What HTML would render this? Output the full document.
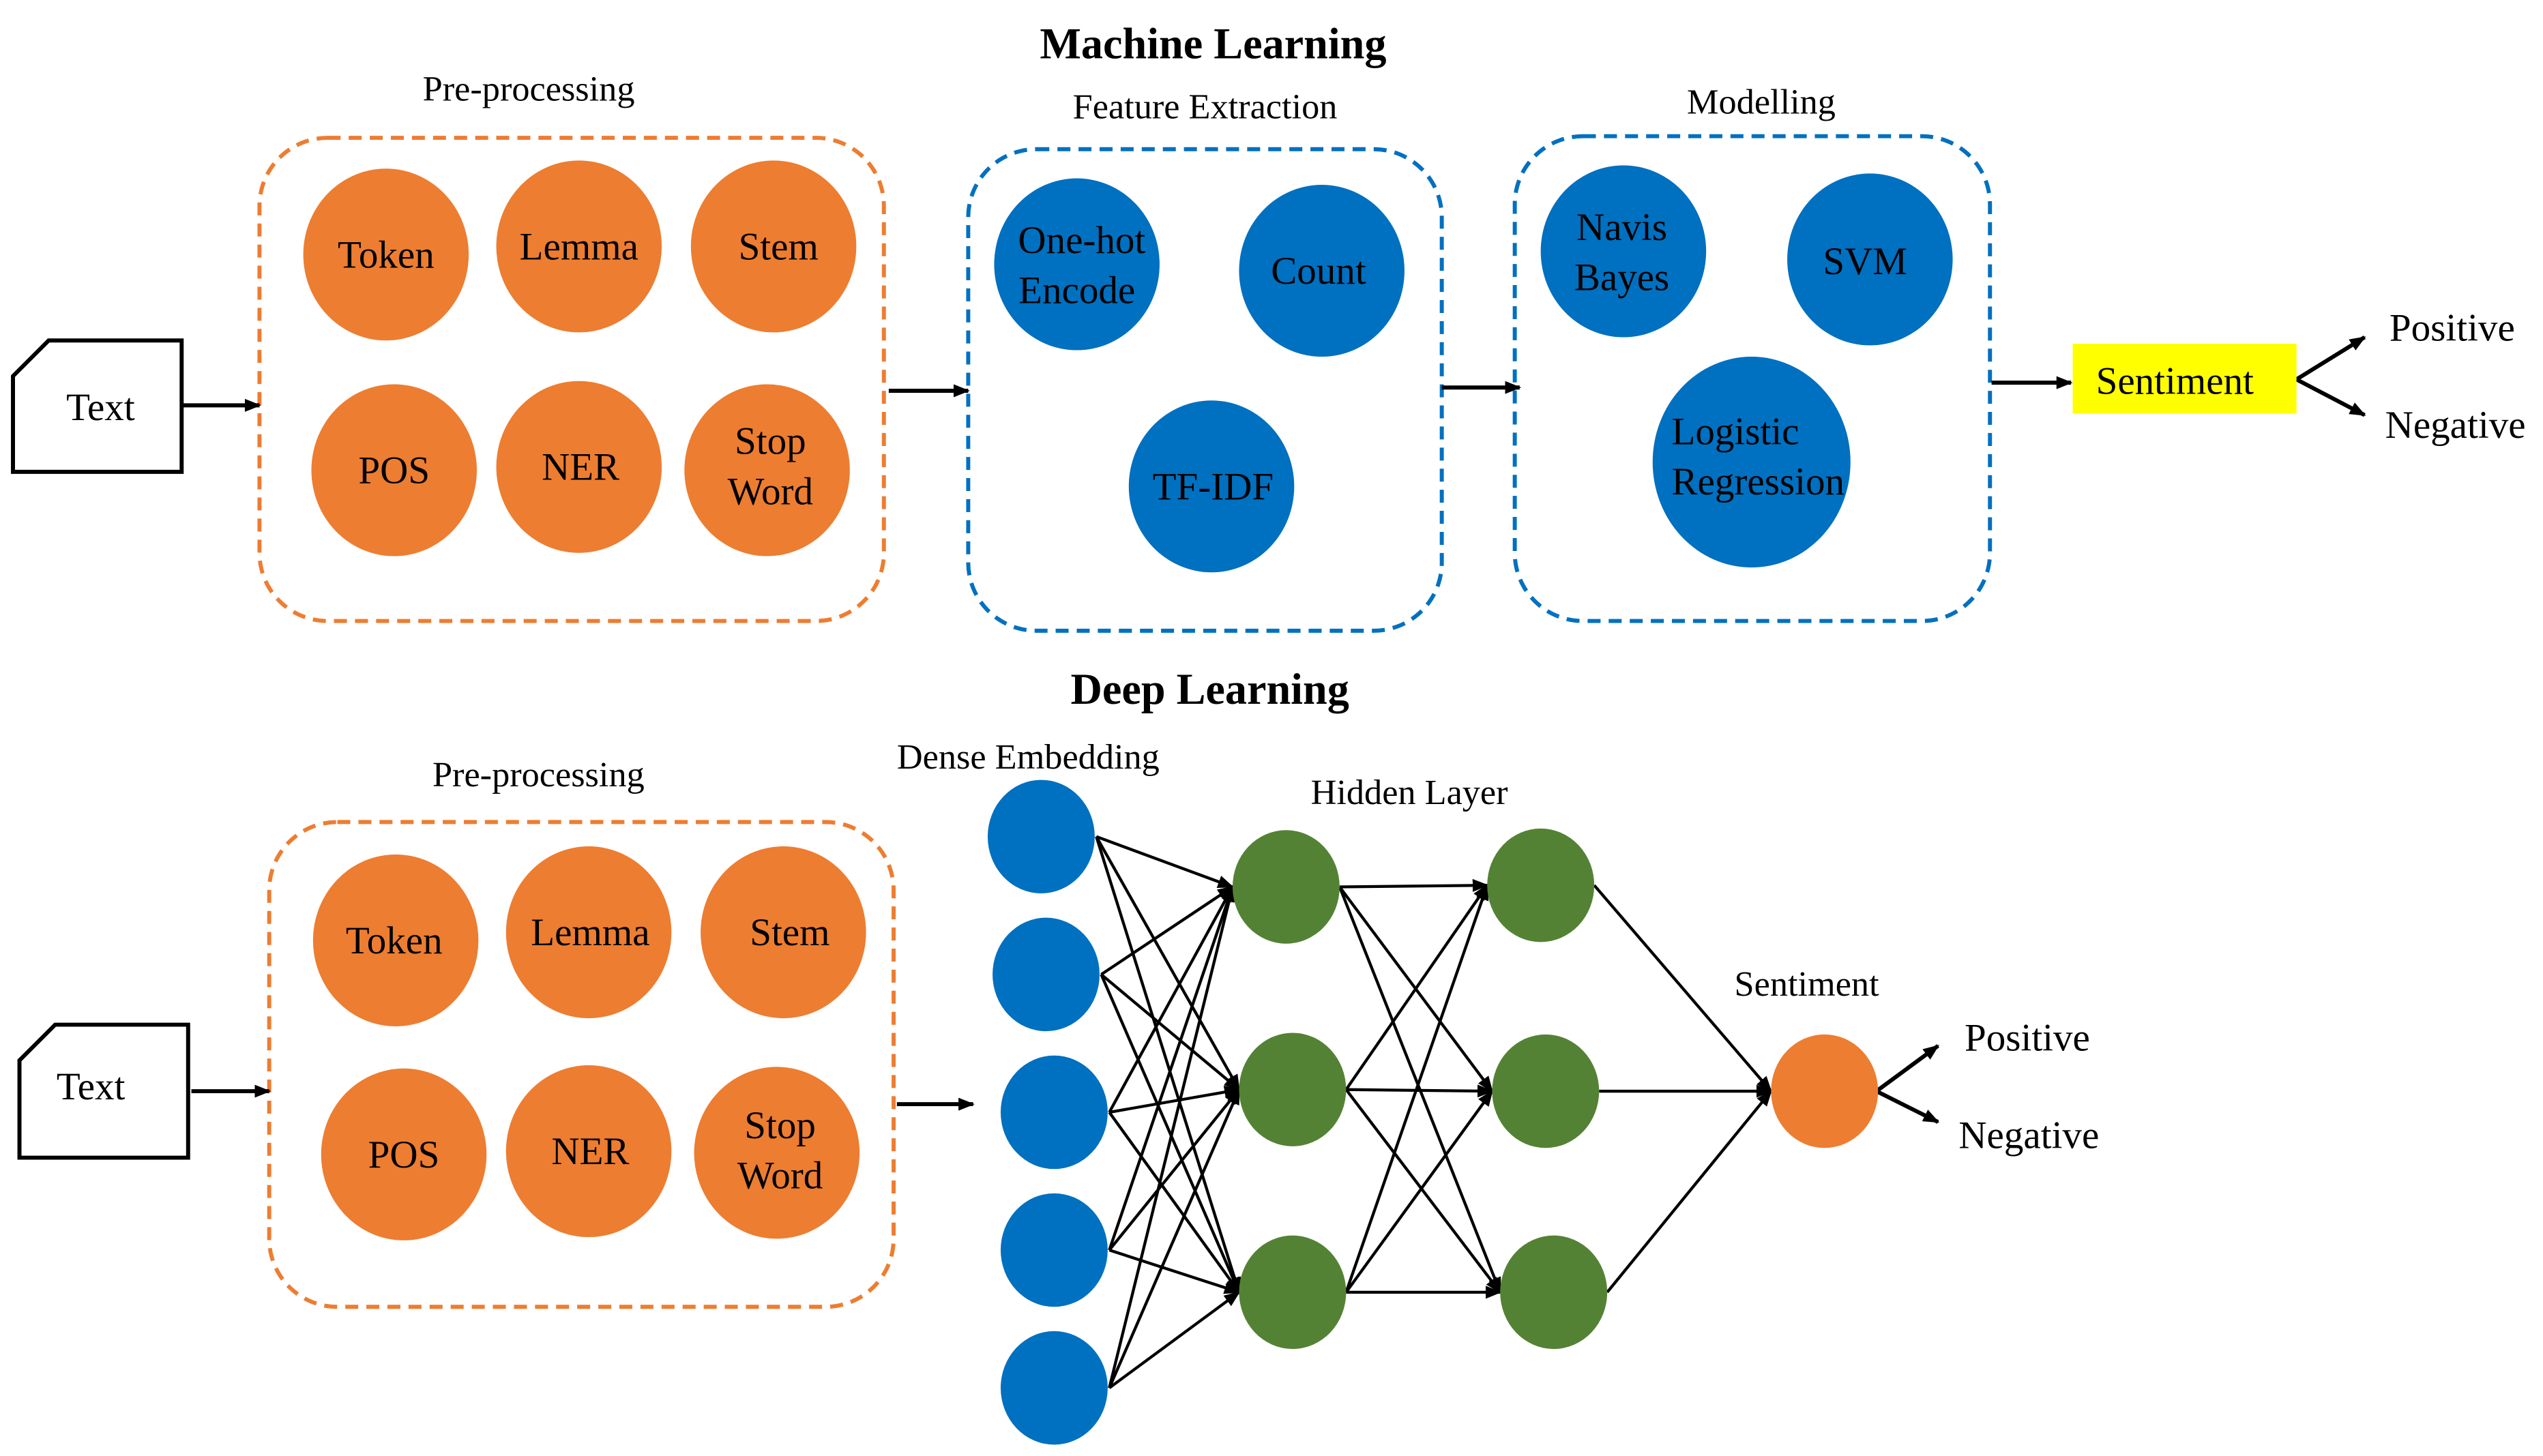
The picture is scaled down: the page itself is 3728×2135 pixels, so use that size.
<!DOCTYPE html>
<html><head><style>html,body{margin:0;padding:0;background:#fff}svg{display:block}svg text{font-family:"Liberation Serif","DejaVu Serif",serif}</style></head>
<body>
<svg width="3728" height="2135" viewBox="0 0 1568 898" preserveAspectRatio="none" xmlns="http://www.w3.org/2000/svg" style="font-family:'Liberation Serif',serif" font-size="24" text-anchor="middle">
<defs>
<marker id="a" markerWidth="10" markerHeight="10" refX="9" refY="5" orient="auto" markerUnits="userSpaceOnUse"><path d="M0,1 L10,5 L0,9 z" fill="#000"/></marker>
</defs>
<text x="748" y="36" font-size="27" font-weight="bold">Machine Learning</text>
<text x="326" y="62" font-size="22">Pre-processing</text>
<text x="743" y="73" font-size="22">Feature Extraction</text>
<text x="1086" y="70" font-size="22">Modelling</text>
<rect x="160" y="85" width="385" height="298" rx="42" fill="none" stroke="#ED7D31" stroke-width="2.5" stroke-dasharray="8,5"/>
<rect x="597" y="92" width="292" height="297" rx="42" fill="none" stroke="#0070C0" stroke-width="2.5" stroke-dasharray="8,5"/>
<rect x="934" y="84" width="293" height="299" rx="42" fill="none" stroke="#0070C0" stroke-width="2.5" stroke-dasharray="8,5"/>
<g fill="#ED7D31">
<ellipse cx="238" cy="157" rx="51" ry="53"/><ellipse cx="357" cy="152" rx="51" ry="53"/><ellipse cx="477" cy="152" rx="51" ry="53"/>
<ellipse cx="243" cy="290" rx="51" ry="53"/><ellipse cx="357" cy="288" rx="51" ry="53"/><ellipse cx="473" cy="290" rx="51" ry="53"/>
</g>
<g>
<text x="238" y="165">Token</text><text x="357" y="160">Lemma</text><text x="480" y="160">Stem</text>
<text x="243" y="298">POS</text><text x="358" y="296">NER</text><text x="475" y="280">Stop</text><text x="475" y="311">Word</text>
</g>
<g fill="#0070C0">
<ellipse cx="664" cy="163" rx="51" ry="53"/><ellipse cx="815" cy="167" rx="51" ry="53"/><ellipse cx="747" cy="300" rx="51" ry="53"/>
<ellipse cx="1001" cy="155" rx="51" ry="53"/><ellipse cx="1153" cy="160" rx="51" ry="53"/><ellipse cx="1080" cy="285" rx="61" ry="65"/>
</g>
<text x="667" y="156">One-hot</text><text x="664" y="187">Encode</text><text x="813" y="175">Count</text><text x="748" y="308">TF-IDF</text>
<text x="1000" y="148">Navis</text><text x="1000" y="179">Bayes</text><text x="1150" y="169">SVM</text>
<text x="1070" y="274">Logistic</text><text x="1084" y="305">Regression</text>
<path d="M8,232 L30,210 L112,210 L112,291 L8,291 Z" fill="#fff" stroke="#000" stroke-width="2.5"/>
<text x="62" y="259">Text</text>
<g stroke="#000" stroke-width="2.5" fill="none" marker-end="url(#a)">
<line x1="112" y1="250" x2="160" y2="250"/>
<line x1="548" y1="241" x2="597" y2="241"/>
<line x1="889" y1="239" x2="937" y2="239"/>
<line x1="1228" y1="236" x2="1277" y2="236"/>
<polyline points="1416,234 1458,208" /><polyline points="1416,234 1458,256"/>
</g>
<rect x="1278" y="212" width="138" height="43" fill="#FFFF00"/>
<text x="1341" y="243">Sentiment</text>
<text x="1512" y="210">Positive</text><text x="1514" y="270">Negative</text>

<text x="746" y="434" font-size="27" font-weight="bold">Deep Learning</text>
<text x="332" y="485" font-size="22">Pre-processing</text>
<text x="634" y="474" font-size="22">Dense Embedding</text>
<text x="869" y="496" font-size="22">Hidden Layer</text>
<text x="1114" y="614" font-size="22">Sentiment</text>
<rect x="166" y="507" width="385" height="299" rx="42" fill="none" stroke="#ED7D31" stroke-width="2.5" stroke-dasharray="8,5"/>
<g fill="#ED7D31">
<ellipse cx="244" cy="580" rx="51" ry="53"/><ellipse cx="363" cy="575" rx="51" ry="53"/><ellipse cx="483" cy="575" rx="51" ry="53"/>
<ellipse cx="249" cy="712" rx="51" ry="53"/><ellipse cx="363" cy="710" rx="51" ry="53"/><ellipse cx="479" cy="711" rx="51" ry="53"/>
</g>
<text x="243" y="588">Token</text><text x="364" y="583">Lemma</text><text x="487" y="583">Stem</text>
<text x="249" y="720">POS</text><text x="364" y="718">NER</text><text x="481" y="702">Stop</text><text x="481" y="733">Word</text>
<path d="M12,654 L34,632 L116,632 L116,714 L12,714 Z" fill="#fff" stroke="#000" stroke-width="2.5"/>
<text x="56" y="678">Text</text>
<g stroke="#000" stroke-width="2.5" fill="none" marker-end="url(#a)">
<line x1="118" y1="673" x2="166" y2="673"/>
<line x1="553" y1="681" x2="600" y2="681"/>
<polyline points="1157,673 1195,645"/><polyline points="1157,673 1195,692"/>
</g>
<g stroke="#000" stroke-width="1.8" marker-end="url(#a)">
<line x1="676" y1="516" x2="760" y2="547"/><line x1="676" y1="516" x2="764" y2="672"/><line x1="676" y1="516" x2="764" y2="797"/>
<line x1="679" y1="601" x2="760" y2="547"/><line x1="679" y1="601" x2="764" y2="672"/><line x1="679" y1="601" x2="764" y2="797"/>
<line x1="684" y1="686" x2="760" y2="547"/><line x1="684" y1="686" x2="764" y2="672"/><line x1="684" y1="686" x2="764" y2="797"/>
<line x1="684" y1="771" x2="760" y2="547"/><line x1="684" y1="771" x2="764" y2="672"/><line x1="684" y1="771" x2="764" y2="797"/>
<line x1="684" y1="856" x2="760" y2="547"/><line x1="684" y1="856" x2="764" y2="672"/><line x1="684" y1="856" x2="764" y2="797"/>
<line x1="826" y1="547" x2="917" y2="546"/><line x1="826" y1="547" x2="920" y2="673"/><line x1="826" y1="547" x2="925" y2="797"/>
<line x1="830" y1="672" x2="917" y2="546"/><line x1="830" y1="672" x2="920" y2="673"/><line x1="830" y1="672" x2="925" y2="797"/>
<line x1="830" y1="797" x2="917" y2="546"/><line x1="830" y1="797" x2="920" y2="673"/><line x1="830" y1="797" x2="925" y2="797"/>
<line x1="983" y1="546" x2="1092" y2="673"/><line x1="986" y1="673" x2="1092" y2="673"/><line x1="991" y1="797" x2="1092" y2="673"/>
</g>
<g fill="#0070C0">
<ellipse cx="642" cy="516" rx="33" ry="35"/><ellipse cx="645" cy="601" rx="33" ry="35"/><ellipse cx="650" cy="686" rx="33" ry="35"/><ellipse cx="650" cy="771" rx="33" ry="35"/><ellipse cx="650" cy="856" rx="33" ry="35"/>
</g>
<g fill="#548235">
<ellipse cx="793" cy="547" rx="33" ry="35"/><ellipse cx="797" cy="672" rx="33" ry="35"/><ellipse cx="797" cy="797" rx="33" ry="35"/>
<ellipse cx="950" cy="546" rx="33" ry="35"/><ellipse cx="953" cy="673" rx="33" ry="35"/><ellipse cx="958" cy="797" rx="33" ry="35"/>
</g>
<ellipse cx="1125" cy="673" rx="33" ry="35" fill="#ED7D31"/>
<text x="1250" y="648">Positive</text><text x="1251" y="708">Negative</text>
</svg>
</body></html>
